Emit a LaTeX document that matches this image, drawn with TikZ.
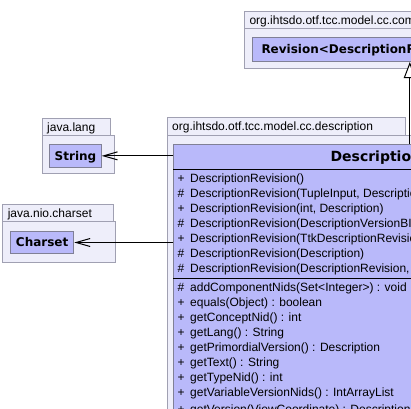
\documentclass[tikz,border=0pt]{standalone}
\usepackage{fontspec}
\setmainfont{Liberation Sans}
\newfontfamily\dvfont{DejaVu Sans}
\usetikzlibrary{arrows.meta}
\definecolor{pkgfill}{RGB}{238,238,250}
\definecolor{pkgdraw}{RGB}{160,160,178}
\definecolor{clsfill}{RGB}{185,185,250}
\definecolor{clsdraw}{RGB}{128,128,150}
\begin{document}
\begin{tikzpicture}[x=1pt,y=-1pt,
  pkgbody/.style={draw=pkgdraw, fill=pkgfill, line width=1pt, anchor=north west, inner sep=0pt},
  pkgtab/.style={draw=pkgdraw, fill=pkgfill, line width=1pt, anchor=north west, inner xsep=5pt, inner ysep=0pt,
    align=left, font=\fontsize{12}{14}\selectfont, text height=8pt, text depth=0pt},
  clsbox/.style={draw=clsdraw, fill=clsfill, line width=1pt, anchor=north west, inner sep=0pt,
    font=\dvfont\bfseries\fontsize{12}{14}\selectfont, text height=8.75pt, text depth=0pt},
  member/.style={anchor=base west, inner sep=0pt, font=\fontsize{12}{14}\selectfont},
  sepline/.style={line width=1pt, black},
  dep/.style={line width=1pt, black, -{Straight Barb[length=14pt, width=8pt, line width=1pt]}},
  gen/.style={line width=1pt, black, -{Triangle[open, length=16pt, width=12pt, line width=1pt, fill=white]}}
]
\useasboundingbox (0,0) rectangle (411,408);
\clip (0,0) rectangle (411,408);
\fill[white] (0,0) rectangle (411,408);

% top package org.ihtsdo.otf.tcc.model.cc.component
\node[pkgbody, minimum width=330pt, minimum height=40pt] (pkgtop) at (244,28) {};
\node[pkgtab, minimum height=17pt, text width=230pt] (pkgtoptab) at (244,11) {org.ihtsdo.otf.tcc.model.cc.component};
\node[clsbox, minimum width=330pt, minimum height=24pt, inner xsep=9pt, text width=312pt, align=left] (revision) at (252,37) {Revision<DescriptionRevision>};

% java.lang
\node[pkgbody, minimum width=72.6pt, minimum height=38.3pt] (pkglang) at (41.7,135) {};
\node[pkgtab, minimum height=16.7pt, text width=58.3pt] (pkglangtab) at (41.7,118.3) {java.lang};
\node[clsbox, minimum width=51.4pt, minimum height=22.7pt] (string) at (49.3,144) {String};

% java.nio.charset
\node[pkgbody, minimum width=112.7pt, minimum height=40.7pt] (pkgnio) at (2.3,221) {};
\node[pkgtab, minimum height=16.7pt, text width=100.4pt] (pkgniotab) at (2.3,204.3) {java.nio.charset};
\node[clsbox, minimum width=63.3pt, minimum height=22.6pt] (charset) at (10,230.7) {Charset};

% org.ihtsdo.otf.tcc.model.cc.description
\node[pkgbody, minimum width=480pt, minimum height=320pt] (pkgdesc) at (166.7,134.7) {};
\node[pkgtab, minimum height=17.7pt, text width=228.3pt] (pkgdesctab) at (166.7,117) {org.ihtsdo.otf.tcc.model.cc.description};

% class DescriptionRevision
\node[clsbox, draw=clsdraw, minimum width=472pt, minimum height=300pt] (desc) at (173.3,144.3) {};
\node[anchor=base, inner sep=0pt, font=\dvfont\bfseries\fontsize{14}{16}\selectfont] (desctitle) at (409.3,161.3) {DescriptionRevision};
\coordinate (sepA) at (173.3,169.3);
\coordinate (sepB) at (173.3,278);
\draw[sepline] (sepA) -- (sepA -| desc.east);
\draw[sepline] (sepB) -- (sepB -| desc.east);

\node[member] (c1) at (177.5,182) {\makebox[12.5pt][l]{+}DescriptionRevision()};
\node[member] (c2) at (177.5,197) {\makebox[12.5pt][l]{\#}DescriptionRevision(TupleInput, Description)};
\node[member] (c3) at (177.5,212) {\makebox[12.5pt][l]{+}DescriptionRevision(int, Description)};
\node[member] (c4) at (177.5,227) {\makebox[12.5pt][l]{\#}DescriptionRevision(DescriptionVersionBI, Description)};
\node[member] (c5) at (177.5,242) {\makebox[12.5pt][l]{+}DescriptionRevision(TtkDescriptionRevision, Description)};
\node[member] (c6) at (177.5,257) {\makebox[12.5pt][l]{\#}DescriptionRevision(Description)};
\node[member] (c7) at (177.5,272) {\makebox[12.5pt][l]{\#}DescriptionRevision(DescriptionRevision, Description)};

\node[member] (m1) at (177.5,291) {\makebox[12.5pt][l]{\#}addComponentNids(Set<Integer>) : void};
\node[member] (m2) at (177.5,306) {\makebox[12.5pt][l]{+}equals(Object) : boolean};
\node[member] (m3) at (177.5,321) {\makebox[12.5pt][l]{+}getConceptNid() : int};
\node[member] (m4) at (177.5,336) {\makebox[12.5pt][l]{+}getLang() : String};
\node[member] (m5) at (177.5,351) {\makebox[12.5pt][l]{+}getPrimordialVersion() : Description};
\node[member] (m6) at (177.5,366) {\makebox[12.5pt][l]{+}getText() : String};
\node[member] (m7) at (177.5,381) {\makebox[12.5pt][l]{+}getTypeNid() : int};
\node[member] (m8) at (177.5,396) {\makebox[12.5pt][l]{+}getVariableVersionNids() : IntArrayList};
\node[member] (m9) at (177.5,413.5) {\makebox[12.5pt][l]{+}getVersion(ViewCoordinate) : Description};

% connectors
\draw[dep] (desc.west |- string.east) -- (string.east);
\draw[dep] (desc.west |- charset.east) -- (charset.east);
\draw[gen] (desc.north) -- (desc.north |- revision.south);
\end{tikzpicture}
\end{document}
